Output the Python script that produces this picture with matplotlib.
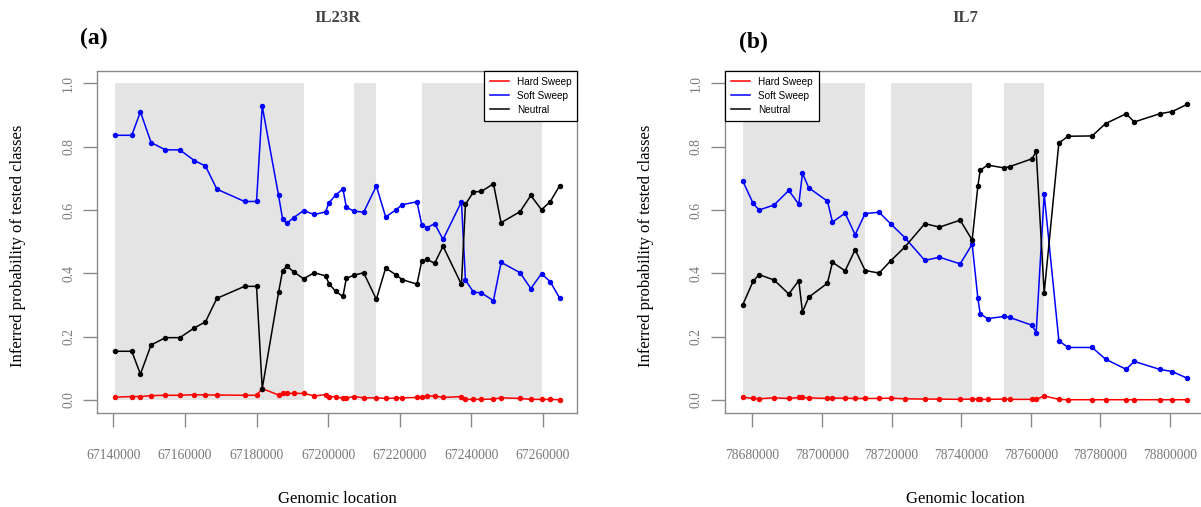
import matplotlib
matplotlib.use("Agg")
import matplotlib.pyplot as plt
from matplotlib.lines import Line2D
from matplotlib.ticker import FixedLocator, FuncFormatter

# ---- IL23R region -------------------------------------------------------
il23r_pos = [67140467, 67145127, 67147552, 67150536, 67154544, 67158553,
             67162656, 67165732, 67168902, 67176641, 67179997, 67181583,
             67186151, 67187269, 67188481, 67190346, 67193143, 67196127,
             67199296, 67200220, 67202093, 67204135, 67205086, 67207128,
             67209925, 67213477, 67216078, 67218875, 67220749, 67224833,
             67226148, 67227631, 67229784, 67232105, 67237252, 67238371,
             67240608, 67242846, 67246202, 67248328, 67253642, 67256635,
             67259628, 67262033, 67264662]
il23r_hard = [0.009, 0.011, 0.011, 0.014, 0.015, 0.015, 0.017, 0.016, 0.016,
              0.015, 0.015, 0.036, 0.016, 0.021, 0.021, 0.021, 0.021, 0.013,
              0.017, 0.010, 0.011, 0.005, 0.006, 0.011, 0.007, 0.007, 0.005,
              0.006, 0.007, 0.008, 0.010, 0.012, 0.013, 0.008, 0.011, 0.002,
              0.002, 0.002, 0.003, 0.007, 0.005, 0.002, 0.002, 0.002, 0.001]
il23r_soft = [0.836, 0.836, 0.910, 0.813, 0.790, 0.790, 0.756, 0.739, 0.666,
              0.627, 0.627, 0.928, 0.646, 0.572, 0.558, 0.576, 0.598, 0.586,
              0.594, 0.623, 0.647, 0.667, 0.609, 0.597, 0.593, 0.676, 0.578,
              0.600, 0.617, 0.626, 0.554, 0.544, 0.557, 0.507, 0.626, 0.379,
              0.341, 0.338, 0.314, 0.435, 0.402, 0.352, 0.399, 0.374, 0.323]
il23r_neutral = [0.154, 0.154, 0.082, 0.174, 0.197, 0.197, 0.228, 0.247, 0.321,
                 0.359, 0.359, 0.036, 0.340, 0.408, 0.423, 0.405, 0.383, 0.402,
                 0.392, 0.368, 0.343, 0.327, 0.384, 0.394, 0.402, 0.318, 0.417,
                 0.396, 0.380, 0.366, 0.438, 0.444, 0.432, 0.486, 0.365, 0.618,
                 0.657, 0.659, 0.683, 0.560, 0.595, 0.646, 0.601, 0.626, 0.676]
il23r_shaded = [(67140467, 67193143), (67207128, 67213477), (67226148, 67259628)]
il23r_ticks = [67140000, 67160000, 67180000, 67200000, 67220000, 67240000, 67260000]

# ---- IL7 region ---------------------------------------------------------
il7_pos = [78677233, 78680201, 78681925, 78686236, 78690451, 78693325,
           78694377, 78696198, 78701561, 78702997, 78706638, 78709512,
           78712385, 78716408, 78719762, 78723785, 78729532, 78733745,
           78739685, 78743133, 78744762, 78745432, 78747538, 78752328,
           78753860, 78760375, 78761524, 78763823, 78768038, 78770720,
           78777616, 78781446, 78787387, 78789685, 78796964, 78800606,
           78804915]
il7_hard = [0.009, 0.005, 0.004, 0.007, 0.005, 0.008, 0.008, 0.007, 0.005,
            0.006, 0.006, 0.005, 0.005, 0.005, 0.006, 0.004, 0.003, 0.003,
            0.002, 0.003, 0.003, 0.002, 0.002, 0.003, 0.002, 0.002, 0.002,
            0.013, 0.002, 0.001, 0.001, 0.001, 0.001, 0.001, 0.001, 0.001,
            0.001]
il7_soft = [0.692, 0.621, 0.600, 0.616, 0.662, 0.618, 0.716, 0.670, 0.628,
            0.562, 0.590, 0.522, 0.589, 0.593, 0.556, 0.513, 0.441, 0.451,
            0.430, 0.492, 0.322, 0.273, 0.257, 0.264, 0.261, 0.236, 0.213,
            0.650, 0.187, 0.166, 0.166, 0.129, 0.097, 0.122, 0.097, 0.090,
            0.069]
il7_neutral = [0.301, 0.375, 0.396, 0.379, 0.335, 0.377, 0.278, 0.325, 0.369,
               0.435, 0.408, 0.475, 0.409, 0.401, 0.440, 0.483, 0.557, 0.546,
               0.568, 0.505, 0.675, 0.725, 0.742, 0.733, 0.737, 0.762, 0.786,
               0.338, 0.812, 0.833, 0.834, 0.873, 0.904, 0.878, 0.904, 0.911,
               0.934]
il7_shaded = [(78677233, 78712385), (78719762, 78743133), (78752328, 78763823)]
il7_ticks = [78680000, 78700000, 78720000, 78740000, 78760000, 78780000, 78800000]

class_names = ["Hard Sweep", "Soft Sweep", "Neutral"]
class_colors = ["#ff0000", "#0000ff", "#000000"]
y_ticks = [0.0, 0.2, 0.4, 0.6, 0.8, 1.0]

SERIF = "Liberation Serif"
SANS = "Liberation Sans"
AXIS_GREY = "#8a8a8a"
LABEL_GREY = "#7a7a7a"

W, H = 1201, 507
fig = plt.figure(figsize=(W / 100, H / 100), dpi=100)


def px_box(x0, y0, x1, y1):
    return [x0 / W, 1 - y1 / H, (x1 - x0) / W, (y1 - y0) / H]


def draw_panel(rect, pos, hard, soft, neutral, shaded, ticks, title, tag,
               tag_xy, legend_loc, ylab_x):
    ax = fig.add_axes(rect)
    for x0, x1 in shaded:
        ax.fill_between([x0, x1], 0, 1, color="#e4e4e4", lw=0, zorder=0)
    for series, col in zip([hard, soft, neutral], class_colors):
        ax.plot(pos, series, color=col, lw=1.1, marker="o", ms=2.9,
                mec=col, mfc=col, zorder=3)
    span = max(pos) - min(pos)
    ax.set_xlim(min(pos) - 0.04 * span, max(pos) + 0.04 * span)
    ax.set_ylim(-0.04, 1.04)

    ax.xaxis.set_major_locator(FixedLocator(ticks))
    ax.xaxis.set_major_formatter(FuncFormatter(lambda v, p: f"{int(round(v))}"))
    ax.yaxis.set_major_locator(FixedLocator(y_ticks))
    ax.yaxis.set_major_formatter(FuncFormatter(lambda v, p: f"{v:.1f}"))
    ax.tick_params(axis="both", direction="out", length=10, width=1.0,
                   color=AXIS_GREY, labelcolor=LABEL_GREY, labelsize=9.8)
    ax.tick_params(axis="x", pad=16)
    ax.tick_params(axis="y", pad=6)
    for lab in ax.get_xticklabels() + ax.get_yticklabels():
        lab.set_fontfamily(SERIF)
    for lab in ax.get_yticklabels():
        lab.set_rotation(90)
        lab.set_va("center")
    for sp in ax.spines.values():
        sp.set_color(AXIS_GREY)
        sp.set_linewidth(1.0)

    handles = [Line2D([], [], color=c, lw=1.1) for c in class_colors]
    leg = ax.legend(handles, class_names, loc=legend_loc, borderaxespad=0,
                    frameon=True, fancybox=False, framealpha=1,
                    edgecolor="black", prop={"family": SANS, "size": 7.2},
                    handlelength=1.9, handletextpad=0.8, labelspacing=0.4,
                    borderpad=0.6)
    leg.get_frame().set_linewidth(0.9)

    # panel annotations, placed in figure pixels
    x0 = rect[0] * W
    x1 = (rect[0] + rect[2]) * W
    cx = (x0 + x1) / 2
    fig.text(cx / W, 1 - 18 / H, title, ha="center", va="center",
             family=SERIF, weight="bold", size=12, color="#444444")
    fig.text(tag_xy[0] / W, 1 - tag_xy[1] / H, tag, ha="center", va="center",
             family=SERIF, weight="bold", size=17, color="black")
    fig.text(cx / W, 1 - 499 / H, "Genomic location", ha="center",
             va="center", family=SERIF, size=12)
    fig.text(ylab_x / W, 1 - 246 / H, "Inferred probability of tested classes",
             ha="center", va="center", rotation=90, family=SERIF, size=12)
    return ax


draw_panel(px_box(97.3, 70.7, 577.3, 412.7), il23r_pos, il23r_hard,
           il23r_soft, il23r_neutral, il23r_shaded, il23r_ticks,
           "IL23R", "(a)", (94, 38), "upper right", 18)
draw_panel(px_box(725, 70.7, 1205, 412.7), il7_pos, il7_hard,
           il7_soft, il7_neutral, il7_shaded, il7_ticks,
           "IL7", "(b)", (753, 42), "upper left", 646)

fig.savefig("out.png", dpi=100)
